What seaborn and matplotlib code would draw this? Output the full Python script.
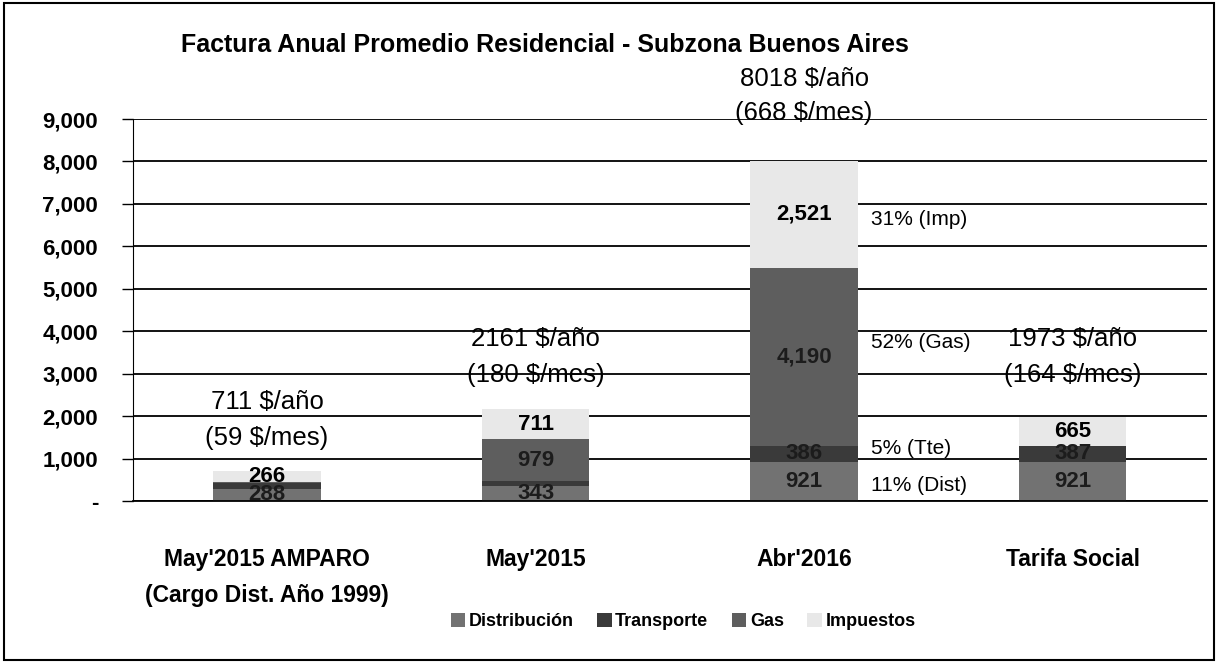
import matplotlib
matplotlib.use('Agg')
import pandas as pd
import matplotlib.pyplot as plt
import seaborn as sns
from matplotlib.patches import Rectangle, Patch

categories = ["May'2015 AMPARO\n(Cargo Dist. Año 1999)", "May'2015", "Abr'2016", "Tarifa Social"]
distribucion = [288, 343, 921, 921]
transporte = [128, 128, 386, 387]
gas = [29, 979, 4190, 0]
impuestos = [266, 711, 2521, 665]
series_names = ['Distribución', 'Transporte', 'Gas', 'Impuestos']
pct_names = ['Dist', 'Tte', 'Gas', 'Imp']
colors = ['#727272', '#3a3a3a', '#5e5e5e', '#e8e8e8']

# text positions (data units)
annual_y = [2330, 3820, 9950, 3820]
monthly_y = [1480, 2980, 9130, 2980]
pct_y = [377, 1249, 3723, 6621]

df = pd.DataFrame({'cat': categories, 'Distribución': distribucion,
                   'Transporte': transporte, 'Gas': gas, 'Impuestos': impuestos})
df['total'] = df[series_names].sum(axis=1)

sns.set_style('white')
plt.rcParams['font.family'] = ['Liberation Sans', 'DejaVu Sans']
plt.rcParams['text.color'] = 'black'
plt.rcParams['xtick.color'] = 'black'
plt.rcParams['ytick.color'] = 'black'

fig = plt.figure(figsize=(12.18, 6.63), dpi=100)
ax = fig.add_axes([0.109, 0.2443, 0.882, 0.5762])

bottom = pd.Series([0] * len(df), dtype=float)
for name, col in zip(series_names, colors):
    sns.barplot(data=df, x='cat', y=name, bottom=bottom, color=col, width=0.4,
                saturation=1, ax=ax, linewidth=0, label=name)
    for i, v in enumerate(df[name]):
        if v >= 200:
            tc = '#000000' if name == 'Impuestos' else '#1c1c1c'
            ax.text(i, bottom[i] + v / 2, f'{v:,}', ha='center', va='center',
                    fontsize=16, fontweight='bold', color=tc)
    bottom = bottom + df[name]

for i, t in enumerate(df['total']):
    ax.text(i, annual_y[i], f'{t} $/año', ha='center', va='center', fontsize=18.5, clip_on=False)
    ax.text(i, monthly_y[i], f'({round(t / 12)} $/mes)', ha='center', va='center',
            fontsize=18.5, clip_on=False)

# percentage notes for Abr'2016
k = 2
for name, short, y in zip(series_names, pct_names, pct_y):
    p = df.loc[k, name] / df.loc[k, 'total'] * 100
    ax.text(k + 0.25, y, f'{p:.0f}% ({short})', ha='left', va='center', fontsize=15)

ax.set_ylim(0, 9000)
ax.set_xlim(-0.5, 3.5)
ax.set_yticks(range(0, 9001, 1000))
ax.set_yticklabels(['-'] + [f'{v:,}' for v in range(1000, 9001, 1000)],
                   fontsize=16, fontweight='bold')
ax.set_xticks(range(4))
ax.set_xticklabels(categories, fontsize=16.5, fontweight='bold', linespacing=1.7)
ax.set_xticks([-0.5, 0.5, 1.5, 2.5, 3.5], minor=True)
ax.tick_params(axis='x', which='major', length=0, pad=34)
ax.tick_params(axis='x', which='minor', length=8, width=1, direction='out')
ax.tick_params(axis='y', length=8, width=1, direction='out', pad=17, left=True)
ax.set_xlabel('')
ax.set_ylabel('')
ax.yaxis.grid(True, color='black', linewidth=1.3)
ax.set_axisbelow(True)
for s in ['top', 'right']:
    ax.spines[s].set_visible(False)
ax.spines['left'].set_color('black')
ax.spines['bottom'].set_color('black')
ax.spines['bottom'].set_linewidth(1.3)
if ax.get_legend():
    ax.get_legend().remove()

handles = [Patch(facecolor=c, edgecolor='none') for c in colors]
fig.legend(handles, series_names, loc='center', bbox_to_anchor=(683 / 1218, 0.062),
           ncol=4, frameon=False, handlelength=0.8, handleheight=0.8, handletextpad=0.2,
           columnspacing=1.3, prop={'size': 13, 'weight': 'bold'})

fig.text(545 / 1218, 0.932, 'Factura Anual Promedio Residencial - Subzona Buenos Aires',
         ha='center', va='center', fontsize=18, fontweight='bold')

fig.patches.append(Rectangle((0.003, 0.005), 0.994, 0.99, transform=fig.transFigure,
                             fill=False, edgecolor='black', linewidth=1.5))

fig.savefig('out.png', dpi=100)
